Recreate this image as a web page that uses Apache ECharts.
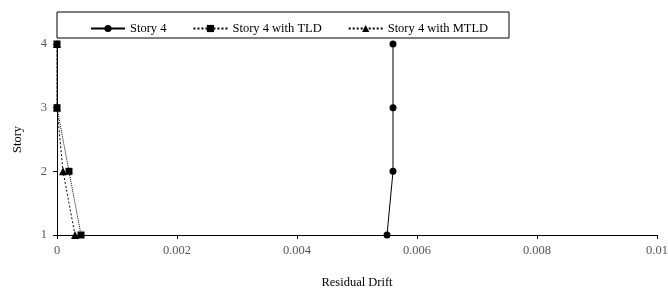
<!DOCTYPE html>
<html>
<head>
<meta charset="utf-8">
<script src="https://cdn.jsdelivr.net/npm/echarts@6/dist/echarts.min.js"></script>
<style>
  html, body { margin: 0; padding: 0; background: #fff; }
  #main { width: 668px; height: 291px; }
</style>
</head>
<body>
<div id="main"></div>
<script>
// stories (y) and residual drift per story (x)
var stories = [1, 2, 3, 4];
var story4 = [0.0055, 0.0056, 0.0056, 0.0056];
var story4TLD = [0.0004, 0.0002, 0, 0];
var story4MTLD = [0.0003, 0.0001, 0, 0];

function pairs(xs) {
  return xs.map(function (x, i) { return [x, stories[i]]; });
}

var font = "'Liberation Serif', serif";

var chart = echarts.init(document.getElementById("main"));
chart.setOption({
  animation: false,
  textStyle: { fontFamily: font },
  grid: { left: 57, right: 11, top: 44, bottom: 56, outerBoundsMode: "none", containLabel: false },
  graphic: [{
    type: "rect",
    shape: { x: 57, y: 12, width: 452, height: 26 },
    style: { fill: "#fff", stroke: "#000", lineWidth: 1 }
  }],
  legend: {
    left: 85,
    top: 17,
    itemWidth: 34,
    itemHeight: 9,
    itemGap: 26,
    textStyle: { fontFamily: font, fontSize: 12.5, color: "#000" },
    data: ["Story 4", "Story 4 with TLD", "Story 4 with MTLD"]
  },
  xAxis: {
    type: "value",
    min: 0,
    max: 0.01,
    interval: 0.002,
    name: "Residual Drift",
    nameLocation: "middle",
    nameGap: 41,
    nameTextStyle: { fontFamily: font, fontSize: 12.5, color: "#000" },
    axisLine: { onZero: false, lineStyle: { color: "#000" } },
    axisTick: { show: true, length: 4, lineStyle: { color: "#000" } },
    axisLabel: {
      fontFamily: font, fontSize: 12.5, color: "#555", margin: 9,
      formatter: function (v) { return v === 0 ? "0" : String(+v.toFixed(3)); }
    },
    splitLine: { show: false }
  },
  yAxis: {
    type: "value",
    min: 1,
    max: 4,
    interval: 1,
    name: "Story",
    nameLocation: "middle",
    nameGap: 33,
    nameTextStyle: { fontFamily: font, fontSize: 12.5, color: "#000" },
    axisLine: { show: true, onZero: false, lineStyle: { color: "#000" } },
    axisTick: { show: true, length: 4, lineStyle: { color: "#000" } },
    axisLabel: { fontFamily: font, fontSize: 12.5, color: "#555", margin: 10 },
    splitLine: { show: false }
  },
  series: [
    {
      name: "Story 4",
      type: "line",
      data: pairs(story4),
      symbol: "circle",
      symbolSize: 7,
      color: "#000",
      lineStyle: { color: "#000", width: 1 },
      itemStyle: { color: "#000" }
    },
    {
      name: "Story 4 with TLD",
      type: "line",
      data: pairs(story4TLD),
      symbol: "rect",
      symbolSize: 7,
      color: "#000",
      lineStyle: { color: "#000", width: 1, type: "dotted" },
      itemStyle: { color: "#000" }
    },
    {
      name: "Story 4 with MTLD",
      type: "line",
      data: pairs(story4MTLD),
      symbol: "triangle",
      symbolSize: 8,
      color: "#000",
      lineStyle: { color: "#000", width: 1, type: [2, 2] },
      itemStyle: { color: "#000" }
    }
  ]
});
</script>
</body>
</html>
